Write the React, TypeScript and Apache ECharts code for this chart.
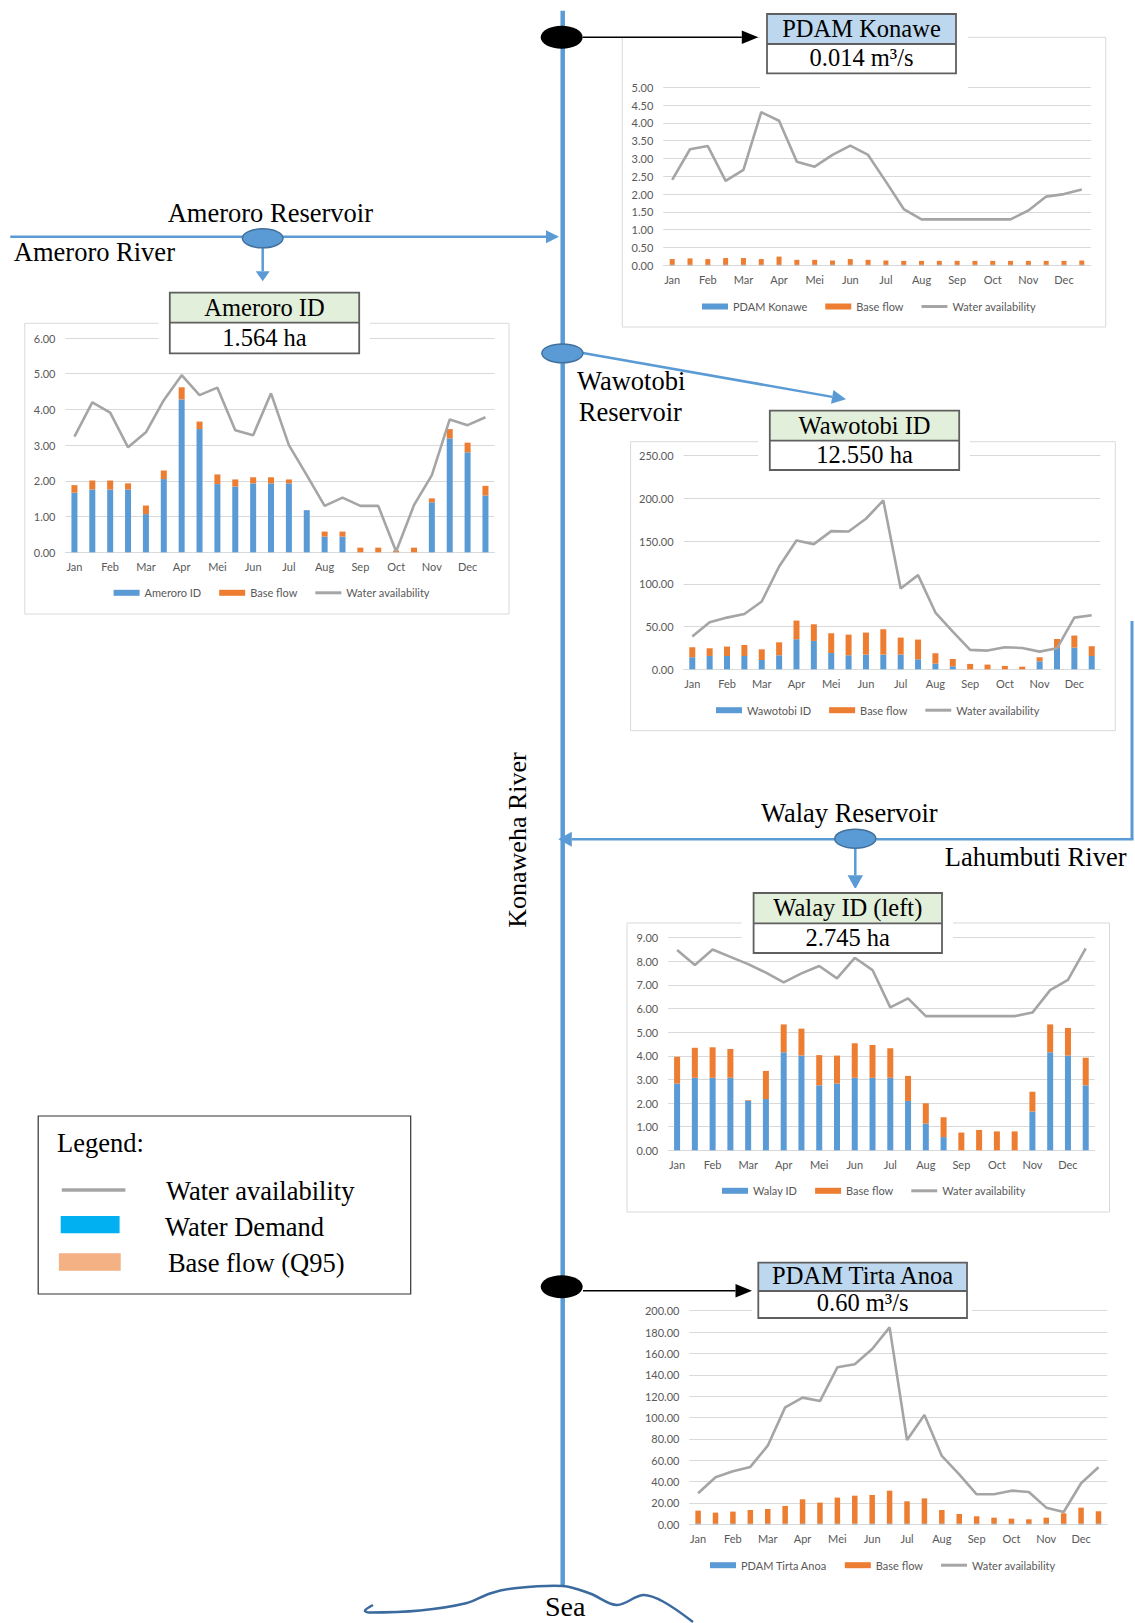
import React, { useEffect, useRef } from 'react';
import * as echarts from 'echarts';

// Half-monthly periods (two per month)
const months = ['Jan', 'Feb', 'Mar', 'Apr', 'Mei', 'Jun', 'Jul', 'Aug', 'Sep', 'Oct', 'Nov', 'Dec'];
const periods = months.flatMap((m) => [m + ' I', m + ' II']);

// PDAM Konawe (m3/s)
const konaweDemand = [0.014, 0.014, 0.014, 0.014, 0.014, 0.014, 0.014, 0.014, 0.014, 0.014, 0.014, 0.014, 0.014, 0.014, 0.014, 0.014, 0.014, 0.014, 0.014, 0.014, 0.014, 0.014, 0.014, 0.014];
const konaweBase = [0.16, 0.18, 0.16, 0.19, 0.19, 0.16, 0.23, 0.14, 0.14, 0.12, 0.16, 0.14, 0.12, 0.11, 0.11, 0.11, 0.11, 0.11, 0.11, 0.11, 0.11, 0.11, 0.11, 0.12];
const konaweAvail = [2.4, 3.26, 3.35, 2.37, 2.68, 4.3, 4.06, 2.91, 2.77, 3.1, 3.36, 3.1, 2.35, 1.58, 1.29, 1.29, 1.29, 1.29, 1.29, 1.29, 1.54, 1.93, 2.0, 2.13];

// Ameroro irrigation area
const ameroroDemand = [1.67, 1.76, 1.76, 1.76, 1.07, 2.05, 4.28, 3.45, 1.91, 1.84, 1.93, 1.93, 1.93, 1.18, 0.44, 0.44, 0, 0, 0, 0, 1.4, 3.19, 2.8, 1.59];
const ameroroBase = [0.21, 0.25, 0.25, 0.17, 0.24, 0.24, 0.34, 0.21, 0.27, 0.2, 0.17, 0.17, 0.11, 0, 0.14, 0.14, 0.13, 0.13, 0.05, 0.13, 0.11, 0.26, 0.27, 0.27];
const ameroroAvail = [3.24, 4.2, 3.91, 2.94, 3.36, 4.26, 4.96, 4.4, 4.61, 3.42, 3.28, 4.45, 3.0, 2.16, 1.3, 1.53, 1.3, 1.3, 0.02, 1.32, 2.16, 3.72, 3.56, 3.78];

// Wawotobi irrigation area
const wawotobiDemand = [14.1, 15.6, 15.6, 15.6, 10.9, 16.4, 35.2, 33.2, 19.1, 16.4, 17.2, 17.2, 17.2, 11.7, 6.6, 3.5, 0, 0, 0, 0, 9.4, 25.0, 25.4, 15.6];
const wawotobiBase = [11.7, 9.0, 11.0, 12.9, 12.5, 15.2, 21.8, 19.5, 23.1, 24.2, 25.8, 29.7, 19.9, 23.1, 12.2, 8.6, 6.3, 5.5, 3.9, 3.1, 4.7, 10.5, 14.1, 11.4];
const wawotobiAvail = [38.3, 55.1, 60.5, 64.8, 79.3, 120.3, 150.8, 146.5, 161.7, 161.3, 176.2, 197.7, 94.5, 110.2, 66.4, 44.1, 22.7, 21.9, 25.8, 25.0, 20.7, 24.6, 60.5, 63.3];

// Walay irrigation area (left)
const walayDemand = [2.83, 3.07, 3.07, 3.07, 2.1, 2.17, 4.15, 4.01, 2.75, 2.83, 3.07, 3.07, 3.07, 2.09, 1.13, 0.56, 0, 0, 0, 0, 1.64, 4.15, 4.01, 2.75];
const walayBase = [1.13, 1.27, 1.29, 1.22, 0.03, 1.19, 1.18, 1.14, 1.28, 1.18, 1.46, 1.39, 1.25, 1.06, 0.86, 0.84, 0.75, 0.86, 0.8, 0.8, 0.84, 1.18, 1.17, 1.17];
const walayAvail = [8.48, 7.84, 8.5, 8.19, 7.88, 7.52, 7.11, 7.49, 7.8, 7.28, 8.15, 7.63, 6.05, 6.43, 5.68, 5.68, 5.68, 5.68, 5.68, 5.68, 5.83, 6.78, 7.21, 8.55];

// PDAM Tirta Anoa (m3/s)
const tirtaDemand = [0.6, 0.6, 0.6, 0.6, 0.6, 0.6, 0.6, 0.6, 0.6, 0.6, 0.6, 0.6, 0.6, 0.6, 0.6, 0.6, 0.6, 0.6, 0.6, 0.6, 0.6, 0.6, 0.6, 0.6];
const tirtaBase = [12.2, 10.3, 11.3, 12.8, 13.8, 16.6, 22.8, 19.7, 24.4, 26.2, 26.9, 30.9, 20.9, 23.7, 12.8, 9.1, 6.9, 5.6, 4.7, 4.1, 5.6, 9.7, 15.0, 11.6];
const tirtaAvail = [29.0, 44.0, 49.6, 53.7, 73.6, 109.5, 118.6, 115.4, 147.0, 149.8, 164.1, 184.4, 78.9, 102.3, 64.0, 46.8, 28.1, 28.1, 31.5, 30.3, 15.6, 11.5, 38.4, 53.4];

// Axis ranges
const axisMax = [5, 6, 250, 9, 200];
const axisStep = [0.5, 1, 50, 1, 20];

const BLUE = '#5b9bd5';
const ORANGE = '#ed7d31';
const GREY = '#a5a5a5';
const TXT = '#595959';
const SANS = 'Lato, "Liberation Sans", sans-serif';
const SERIF = '"Liberation Serif", "Times New Roman", serif';
const LINE_ICON = 'path://M0,0 L26,0 L26,3 L0,3 Z';

type Panel = {
  demandName: string;
  demand: number[];
  base: number[];
  avail: number[];
  grid: { left: number; top: number; width: number; height: number };
  barWidth: number;
  legend: { left: number; cy: number };
  frame: number[] | null;
  title: { x0: number; y0: number; x1: number; y1: number; yd: number; fill: string; l1: string; l2: string };
  mask: number[];
};

const panels: Panel[] = [
  {
    demandName: 'PDAM Konawe', demand: konaweDemand, base: konaweBase, avail: konaweAvail,
    grid: { left: 663.3, top: 87.3, width: 427.4, height: 178 }, barWidth: 5,
    legend: { left: 702, cy: 308 }, frame: [622.3, 37.3, 1105.7, 327],
    title: { x0: 767, y0: 14, x1: 956, y1: 73.3, yd: 44, fill: '#bdd7ee', l1: 'PDAM Konawe', l2: '0.014 m³/s' },
    mask: [760, 6, 968, 91],
  },
  {
    demandName: 'Ameroro ID', demand: ameroroDemand, base: ameroroBase, avail: ameroroAvail,
    grid: { left: 65.5, top: 338, width: 428.9, height: 214.3 }, barWidth: 6,
    legend: { left: 113.6, cy: 594.3 }, frame: [24.8, 323.3, 509, 614],
    title: { x0: 169.8, y0: 292.7, x1: 359.2, y1: 353.3, yd: 322.7, fill: '#e2efda', l1: 'Ameroro ID', l2: '1.564 ha' },
    mask: [158.4, 287, 370, 357],
  },
  {
    demandName: 'Wawotobi ID', demand: wawotobiDemand, base: wawotobiBase, avail: wawotobiAvail,
    grid: { left: 683.6, top: 455.7, width: 416.8, height: 213.6 }, barWidth: 6,
    legend: { left: 716, cy: 711.7 }, frame: [630.6, 441.7, 1115.3, 730.7],
    title: { x0: 769.8, y0: 410.7, x1: 959.2, y1: 470, yd: 440.7, fill: '#e2efda', l1: 'Wawotobi ID', l2: '12.550 ha' },
    mask: [758, 405, 970, 474],
  },
  {
    demandName: 'Walay ID', demand: walayDemand, base: walayBase, avail: walayAvail,
    grid: { left: 668.2, top: 937.7, width: 426.4, height: 212.6 }, barWidth: 6,
    legend: { left: 722, cy: 1192.3 }, frame: [627, 923, 1109.5, 1212],
    title: { x0: 753.6, y0: 893, x1: 942, y1: 953, yd: 923.3, fill: '#e2efda', l1: 'Walay ID (left)', l2: '2.745 ha' },
    mask: [741.6, 888, 953, 957],
  },
  {
    demandName: 'PDAM Tirta Anoa', demand: tirtaDemand, base: tirtaBase, avail: tirtaAvail,
    grid: { left: 689.4, top: 1310.7, width: 417.8, height: 213.6 }, barWidth: 5.5,
    legend: { left: 710, cy: 1566.7 }, frame: null,
    title: { x0: 758.3, y0: 1262.7, x1: 967, y1: 1318, yd: 1291, fill: '#bdd7ee', l1: 'PDAM Tirta Anoa', l2: '0.60 m³/s' },
    mask: [752, 1257, 972, 1322],
  },
];

function arrow(x1: number, y1: number, x2: number, y2: number, color: string, width: number, len: number, half: number, z = 40) {
  const d = Math.hypot(x2 - x1, y2 - y1);
  const ux = (x2 - x1) / d;
  const uy = (y2 - y1) / d;
  const bx = x2 - ux * len;
  const by = y2 - uy * len;
  return [
    { type: 'line', z, shape: { x1, y1, x2: bx, y2: by }, style: { stroke: color, lineWidth: width } },
    {
      type: 'polygon', z,
      shape: { points: [[x2, y2], [bx - uy * half, by + ux * half], [bx + uy * half, by - ux * half]] },
      style: { fill: color },
    },
  ];
}

function label(text: string, x: number, y: number, size = 26.5, align = 'left', z = 45) {
  return {
    type: 'text', x, y, z,
    style: { text, fontSize: size, fontFamily: SERIF, fill: '#000', align, verticalAlign: 'middle' },
  };
}

function titleBox(p: Panel) {
  const t = p.title;
  const m = p.mask;
  const cx = (t.x0 + t.x1) / 2;
  return [
    { type: 'rect', z: 50, shape: { x: m[0], y: m[1], width: m[2] - m[0], height: m[3] - m[1] }, style: { fill: '#ffffff' } },
    { type: 'rect', z: 51, shape: { x: t.x0, y: t.y0, width: t.x1 - t.x0, height: t.yd - t.y0 }, style: { fill: t.fill } },
    { type: 'rect', z: 52, shape: { x: t.x0, y: t.y0, width: t.x1 - t.x0, height: t.y1 - t.y0 }, style: { fill: 'none', stroke: '#5f5f5f', lineWidth: 1.8 } },
    { type: 'line', z: 52, shape: { x1: t.x0, y1: t.yd, x2: t.x1, y2: t.yd }, style: { stroke: '#5f5f5f', lineWidth: 1.8 } },
    label(t.l1, cx, t.yd - 15.5, 24.5, 'center', 53),
    label(t.l2, cx, t.y1 - 16, 24.5, 'center', 53),
  ];
}

function buildOption() {
  const grid: any[] = [];
  const xAxis: any[] = [];
  const yAxis: any[] = [];
  const series: any[] = [];
  const legend: any[] = [];
  const elements: any[] = [];

  panels.forEach((p, i) => {
    grid.push({ ...p.grid, containLabel: false });
    xAxis.push({
      gridIndex: i, type: 'category', data: periods,
      axisTick: { show: false },
      axisLine: { lineStyle: { color: '#d9d9d9', width: 1 } },
      axisLabel: {
        interval: 1, formatter: (v: string) => v.split(' ')[0],
        color: TXT, fontSize: 11, fontFamily: SANS, margin: 9,
      },
    });
    yAxis.push({
      gridIndex: i, type: 'value', min: 0, max: axisMax[i], interval: axisStep[i],
      axisLine: { show: false }, axisTick: { show: false },
      axisLabel: { formatter: (v: number) => v.toFixed(2), color: TXT, fontSize: 11, fontFamily: SANS, margin: 10 },
      splitLine: { lineStyle: { color: '#d9d9d9', width: 1 } },
    });
    series.push(
      {
        type: 'bar', name: p.demandName, xAxisIndex: i, yAxisIndex: i, stack: 'flow' + i,
        data: p.demand, barWidth: p.barWidth, itemStyle: { color: BLUE },
      },
      {
        type: 'bar', name: 'Base flow', xAxisIndex: i, yAxisIndex: i, stack: 'flow' + i,
        data: p.base, barWidth: p.barWidth, itemStyle: { color: ORANGE },
      },
      {
        type: 'line', name: 'Water availability', xAxisIndex: i, yAxisIndex: i, z: 4,
        data: p.avail, symbol: 'none', lineStyle: { color: GREY, width: 2.6 }, itemStyle: { color: GREY },
      },
    );
    legend.push({
      left: p.legend.left, top: p.legend.cy - 7, padding: 0, selectedMode: false,
      itemWidth: 26, itemHeight: 6, itemGap: 18,
      textStyle: { color: TXT, fontSize: 11, fontFamily: SANS },
      data: [
        { name: p.demandName, icon: 'rect' },
        { name: 'Base flow', icon: 'rect' },
        { name: 'Water availability', icon: LINE_ICON, itemStyle: { color: GREY } },
      ],
    });
    if (p.frame) {
      const f = p.frame;
      elements.push({
        type: 'rect', z: 0, shape: { x: f[0], y: f[1], width: f[2] - f[0], height: f[3] - f[1] },
        style: { fill: 'none', stroke: '#d9d9d9', lineWidth: 1 },
      });
    }
    elements.push(...titleBox(p));
  });

  // Konaweha main river
  elements.push({ type: 'line', z: 30, shape: { x1: 562.7, y1: 10.7, x2: 562.7, y2: 1586 }, style: { stroke: BLUE, lineWidth: 4.5 } });

  // Ameroro river and reservoir
  elements.push(...arrow(10.3, 236.7, 559, 236.7, BLUE, 2.5, 13, 6.5));
  elements.push(...arrow(262.7, 247, 262.7, 281.2, BLUE, 2.5, 10, 7));
  elements.push({ type: 'ellipse', z: 42, shape: { cx: 262.7, cy: 238.3, rx: 20.3, ry: 9.5 }, style: { fill: BLUE, stroke: '#41719c', lineWidth: 1.5 } });
  elements.push(label('Ameroro Reservoir', 167.7, 213));
  elements.push(label('Ameroro River', 13.8, 252));

  // Wawotobi reservoir
  elements.push(...arrow(580, 352.5, 846, 399.3, BLUE, 2.5, 14, 7));
  elements.push({ type: 'ellipse', z: 42, shape: { cx: 562.4, cy: 353.3, rx: 20.5, ry: 9.4 }, style: { fill: BLUE, stroke: '#41719c', lineWidth: 1.5 } });
  elements.push(label('Wawotobi', 577, 381));
  elements.push(label('Reservoir', 578.8, 412));

  // Lahumbuti river, Walay reservoir
  elements.push({ type: 'line', z: 30, shape: { x1: 1132, y1: 621, x2: 1132, y2: 839.3 }, style: { stroke: BLUE, lineWidth: 3 } });
  elements.push(...arrow(1133.5, 839.3, 558.3, 839.3, BLUE, 2.5, 13.5, 7.5));
  elements.push(...arrow(855.3, 848, 855.3, 889.3, BLUE, 2.5, 14, 7.7));
  elements.push({ type: 'ellipse', z: 42, shape: { cx: 855.3, cy: 838.7, rx: 20.5, ry: 9.5 }, style: { fill: BLUE, stroke: '#41719c', lineWidth: 1.5 } });
  elements.push(label('Walay Reservoir', 761, 813));
  elements.push(label('Lahumbuti River', 944.7, 857));

  // Intakes of the drinking water companies
  elements.push({ type: 'ellipse', z: 42, shape: { cx: 561.7, cy: 37.3, rx: 21, ry: 11.5 }, style: { fill: '#000' } });
  elements.push(...arrow(583, 37.3, 758.3, 37.3, '#000', 1.5, 16.5, 6.8));
  elements.push({ type: 'ellipse', z: 42, shape: { cx: 561.7, cy: 1286.7, rx: 21, ry: 11.5 }, style: { fill: '#000' } });
  elements.push(...arrow(583, 1290.8, 752, 1290.8, '#000', 1.5, 16.5, 6.8));

  // River name, vertical
  elements.push({
    type: 'text', x: 517.2, y: 840, rotation: Math.PI / 2, z: 45,
    style: { text: 'Konaweha River', fontSize: 26, fontFamily: SERIF, fill: '#000', align: 'center', verticalAlign: 'middle' },
  });

  // Sea outline
  elements.push({
    type: 'polyline', z: 30,
    shape: {
      smooth: 0.35,
      points: [
        [373, 1605], [365, 1610.5], [369, 1612.5], [420, 1610.5], [467, 1603], [490, 1593.5],
        [513, 1588.5], [562.7, 1586], [590, 1593.5], [617, 1605], [643, 1595], [663, 1601.5], [693, 1622],
      ],
    },
    style: { stroke: '#3a6a9e', lineWidth: 2.5, fill: 'none' },
  });
  elements.push(label('Sea', 545, 1606.5, 28));

  // Diagram legend
  elements.push({ type: 'rect', z: 40, shape: { x: 38.2, y: 1116, width: 372.5, height: 178 }, style: { fill: 'none', stroke: '#333', lineWidth: 1.2 } });
  elements.push(label('Legend:', 57, 1143));
  elements.push({ type: 'line', z: 40, shape: { x1: 61.8, y1: 1190, x2: 125.4, y2: 1190 }, style: { stroke: GREY, lineWidth: 3.5 } });
  elements.push(label('Water availability', 166, 1191));
  elements.push({ type: 'rect', z: 40, shape: { x: 60.7, y: 1216, width: 58.9, height: 17.3 }, style: { fill: '#00b0f0' } });
  elements.push(label('Water Demand', 165, 1227));
  elements.push({ type: 'rect', z: 40, shape: { x: 58.9, y: 1253.3, width: 61.8, height: 17.4 }, style: { fill: '#f4b183' } });
  elements.push(label('Base flow (Q95)', 167.9, 1263));

  return {
    animation: false,
    backgroundColor: '#ffffff',
    grid, xAxis, yAxis, series, legend,
    graphic: { elements },
  };
}

export default function App() {
  const ref = useRef<HTMLDivElement>(null);
  useEffect(() => {
    if (!ref.current) return;
    const chart = echarts.init(ref.current, undefined, { renderer: 'svg' });
    chart.setOption(buildOption() as any);
    return () => chart.dispose();
  }, []);
  return <div ref={ref} style={{ position: 'absolute', left: 0, top: 0, width: 1135, height: 1623 }} />;
}
